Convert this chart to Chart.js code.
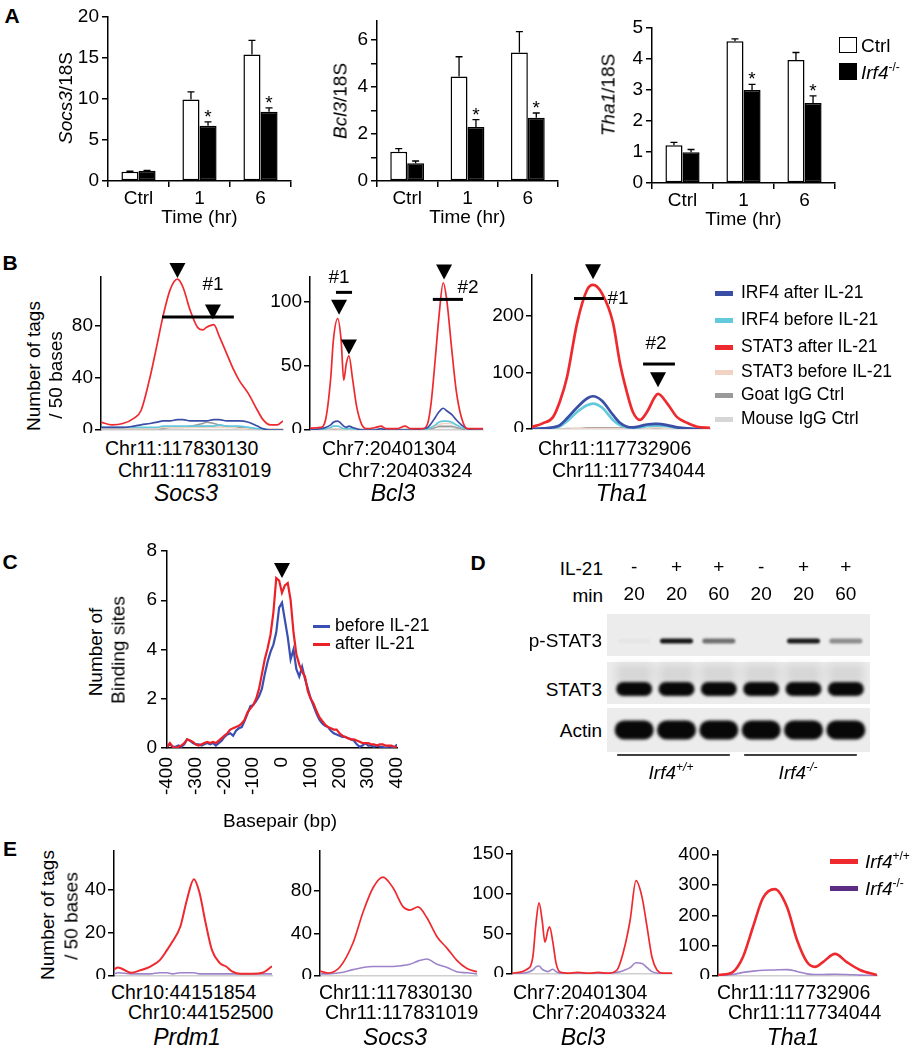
<!DOCTYPE html>
<html>
<head>
<meta charset="utf-8">
<title>IRF4 / STAT3 figure</title>
<script src="https://cdn.jsdelivr.net/npm/chart.js@4.4.1/dist/chart.umd.min.js"></script>
<style>
  html, body { margin: 0; padding: 0; background: #fff; }
  body { position: relative; width: 912px; height: 1050px; overflow: hidden;
         font-family: "Liberation Sans", Arial, Helvetica, sans-serif; color: #000; }
  canvas { position: absolute; }
  .t { position: absolute; white-space: nowrap; line-height: 1; font-size: 19px; z-index: 2; }
  .pl { font-weight: bold; font-size: 21px; }
  .t sup { font-size: 12px; vertical-align: baseline; position: relative; top: -8px; }
  .sw { position: absolute; z-index: 2; box-sizing: border-box; }
</style>
</head>
<body>
<script>
// ================= DATA =================
// ---- Panel A : qPCR (relative to 18S) ----
const timeCats = ['Ctrl', '1', '6'];
const aSeriesNames = ['Ctrl', 'Irf4-/-'];

const socs3Ctrl    = [1.14, 9.94, 15.42];
const socs3CtrlErr = [0.05, 0.93, 1.74];
const socs3Ko      = [1.26, 6.73, 8.44];
const socs3KoErr   = [0.04, 0.49, 0.48];
const socs3Sig     = [false, true, true];

const bcl3Ctrl    = [1.24, 4.44, 5.46];
const bcl3CtrlErr = [0.14, 0.84, 0.89];
const bcl3Ko      = [0.75, 2.30, 2.69];
const bcl3KoErr   = [0.10, 0.31, 0.20];
const bcl3Sig     = [false, true, true];

const tha1Ctrl    = [1.22, 4.57, 3.97];
const tha1CtrlErr = [0.09, 0.08, 0.24];
const tha1Ko      = [0.99, 3.00, 2.58];
const tha1KoErr   = [0.09, 0.18, 0.23];
const tha1Sig     = [false, true, true];

// ---- Panel B : ChIP-seq tag density (position = % of window) ----
const bSeriesNames = ['IRF4 after IL-21', 'IRF4 before IL-21', 'STAT3 after IL-21', 'STAT3 before IL-21', 'Goat IgG Ctrl', 'Mouse IgG Ctrl'];

const bSocs3Pos         = [0,6,12,18,22,27,31,34,38,42,45,49,53,56,58,62,65,69,73,76,81,86,89,93,97,100];
const bSocs3Stat3After  = [6,4,5,9,15,41,67,87,108,116,110,92,79,77,79,81,72,59,46,38,28,15,8,4,4,7];
const bSocs3Irf4After   = [2,2,2,3,4,5,6,7,7,8,8,7,7,7,7,8,8,7,7,7,6,3,1,0,0,0];
const bSocs3Irf4Before  = [2,2,2,2,2,2,2,3,3,3,3,3,3,3,3,3,4,3,3,3,2,1,1,0,0,0];
const bSocs3Stat3Before = [1,1,1,1,1,1,1,2,2,2,2,2,2,2,2,2,2,2,2,1,1,1,1,1,1,1];
const bSocs3Goat        = [1,1,1,1,1,1,1,1,2,2,2,3,4,5,6,5,4,3,2,2,1,1,1,1,1,1];
const bSocs3Mouse       = [1,1,1,1,1,1,2,2,2,2,2,2,3,3,3,3,3,2,2,2,2,1,1,1,1,1];

const bBcl3Pos         = [0,6,9,12,13.5,16,18,19.5,21,22.5,24.5,27,30,33,38,41,44,50,55,58,65,68,70,72.5,74.5,77,79,82,84.5,87.5,91,95,100];
const bBcl3Stat3After  = [1.5,2,8,41,70,87,70,39,52,58,41,18,4,1,2,3,1,1,3,1,1,5,21,57,88,115,102,62,31,10,1,1,1];
const bBcl3Irf4After   = [0,1,2,4,6,7,5,3,2,3,2,1,0,0,0,1,0,0,0,0,1,2,5,10,14,17,15,12,8,4,1,0,0];
const bBcl3Irf4Before  = [0,0,1,2,3,3,2,1,1,1,1,0,0,0,0,0,0,0,0,0,0,1,2,4,6,7,7,6,4,2,1,0,0];
const bBcl3Stat3Before = [0,0,0,1,1,1,1,0,0,0,0,0,0,0,0,0,0,0,0,0,0,1,2,3,4,5,5,5,4,2,1,0,0];
const bBcl3Goat        = [0,0,0,0,0,1,1,0,0,0,0,0,0,0,0,0,0,0,0,0,0,1,1,2,3,3,3,3,2,1,0,0,0];
const bBcl3Mouse       = [1,1,1,1,1,1,1,1,1,1,1,1,1,1,1,1,1,1,1,1,1,1,1,2,2,2,2,2,1,1,1,1,1];

const bTha1Pos         = [0,6,11.8,15.7,19.7,25.3,30.9,34.3,39.3,45.5,49.4,53.4,56.7,60.7,64.6,69.1,70.8,75.8,81.5,87.1,92.7,100];
const bTha1Stat3After  = [3.5,10,21,49,92,187,246,255,240,188,117,64,30,16,30,57,62,46,21,11,4,2];
const bTha1Irf4After   = [0,1,3,7,19,38,54,58,50,25,11,4,3,5,8,9,9,7,3,1,0,0];
const bTha1Irf4Before  = [0,1,2,5,14,30,42,45,38,16,7,3,2,3,5,6,6,5,2,1,0,0];
const bTha1Stat3Before = [0,0,0,0,0,1,1,1,1,1,1,0,0,0,1,2,2,1,0,0,0,0];
const bTha1Goat        = [0,0,0,0,1,1,2,2,2,2,2,2,1,1,0,0,0,0,0,0,0,0];
const bTha1Mouse       = [0,0,0,0,0,0,1,1,1,1,1,1,1,0,0,0,0,0,0,0,0,0];

// peak markers [position, value] and binding-site bars [from, to, value]
const bSocs3Peaks = [[42, 117], [61.5, 85]];
const bSocs3Sites = [[33.5, 73, 87]];
const bBcl3Peaks  = [[16.8, 90], [22.5, 59], [77.5, 117.5]];
const bBcl3Sites  = [[15, 24.3, 107.5], [71, 88.4, 102]];
const bTha1Peaks  = [[34.3, 265], [70.8, 74]];
const bTha1Sites  = [[23.6, 40.4, 231], [62.4, 80.3, 115]];

// ---- Panel C : binding-site distribution ----
const cBp = [-400,-390,-380,-370,-360,-350,-340,-330,-320,-310,-300,-290,-280,-270,-260,-250,-240,-230,-220,-210,-200,-190,-180,-170,-160,-150,-140,-130,-120,-110,-100,-90,-80,-70,-60,-50,-40,-30,-20,-10,0,10,20,30,40,50,60,70,80,90,100,110,120,130,140,150,160,170,180,190,200,210,220,230,240,250,260,270,280,290,300,310,320,330,340,350,360,370,380,390,400];
const cBeforeIL21 = [0.05,0.15,0.05,0.05,0.1,0.05,0.15,0.35,0.3,0.2, 0.15,0.15,0.1,0.15,0.2,0.15,0.2,0.1,0.2,0.3, 0.45,0.55,0.6,0.5,0.7,0.8,0.85,1.1,1.4,1.7, 1.75,1.9,2.1,2.4,3.0,3.5,3.9,4.2,4.7,5.7, 5.9,5.2,4.5,3.6,4.0,3.2,2.9,3.3,2.8,2.4, 2.0,1.7,1.4,1.15,1.0,0.9,0.85,0.7,0.6,0.55, 0.5,0.45,0.45,0.4,0.35,0.3,0.15,0.05,0.1,0.2, 0.1,0.1,0.05,0.1,0.05,0.05,0.0,0.05,0.05,0.0, 0.15];
const cAfterIL21  = [0.05,0.2,0.05,0.0,0.05,0.1,0.2,0.35,0.3,0.25, 0.15,0.1,0.15,0.2,0.25,0.2,0.25,0.2,0.3,0.4, 0.5,0.6,0.75,0.8,0.85,0.9,1.0,1.15,1.45,1.6, 1.75,2.0,2.4,3.0,3.6,4.05,4.6,5.5,6.9,6.8, 6.3,6.6,6.7,6.0,4.7,3.8,3.4,3.1,2.9,2.3, 2.0,1.8,1.5,1.25,1.1,0.95,0.85,0.8,0.75,0.75, 0.6,0.5,0.45,0.4,0.35,0.35,0.3,0.25,0.2,0.2, 0.2,0.15,0.15,0.1,0.15,0.15,0.1,0.1,0.1,0.05, 0.05];
const cPeaks = [[0, 6.9]];

// ---- Panel D : western blot (band intensity 0..1) ----
const blotIL21  = ['-', '+', '+', '-', '+', '+'];
const blotMin   = ['20', '20', '60', '20', '20', '60'];
const blotRows  = ['p-STAT3', 'STAT3', 'Actin'];
const pStat3Band = [0.025, 0.95, 0.55, 0.0, 0.92, 0.42];
const stat3Band  = [1, 1, 1, 1, 1, 1];
const actinBand  = [1, 1, 1, 1, 1, 1];
const blotGroups = [[0, 2], [3, 5]];

// ---- Panel E : STAT3 ChIP-seq in Irf4+/+ vs Irf4-/- ----
const ePrdm1Pos = [0,2.5,11,16,23,29,33.5,37,42,46,50.6,54,58,62,67,71,75,80,88,94,100];
const ePrdm1Wt  = [3,4,1.5,2.5,4.4,7.4,12,16,23,35,45,39,24.6,12,6,4.4,2,1,1,1.5,4.5];
const ePrdm1Ko  = [1,1.5,1,1,1,1.5,1.5,1,1.5,1.5,1.5,1,1,1,1,1,1,1,1,1,1];

const eSocs3Pos = [0,5,12.7,21,27.4,33.8,40,46.5,53,57.3,62.4,68,74.5,81,87,93.6,100];
const eSocs3Wt  = [4.7,2.8,8.5,31,60,83,93,83,65,62,65,55,37,26,15,7,4];
const eSocs3Ko  = [2,2,3,6,8,9,9,9,10,11,14,16,11,8,4,3,2];

const eBcl3Pos = [0,9.4,13,15,16.9,18.8,20.6,22.5,23.5,25.6,27.5,30,35,41,48,54,60,65.6,69.4,73.8,77.5,81.3,84.4,87.5,90.6,94.4,100];
const eBcl3Wt  = [1,6,21,64,89,68,40,55,59,39,14,2.5,1,2,1,2,1,5,26,67,117,96,59,21,5,1,1];
const eBcl3Ko  = [0,2,5,9,10,6,4,3,4,6,3,1,0,0,0,0,1,2,4,8,14,13,8,3,1,0,0];

const eTha1Pos = [0,4.7,9.4,15.7,22,28.3,35.8,43.4,49.7,56,61,66,73.6,81,89.3,100];
const eTha1Wt  = [3,6,13,63,162,258,287,228,119,46,30,46,73,46,20,3];
const eTha1Ko  = [1,3,5,12,16,19,20,21,15,7,5,5,6,5,3,1];

// ================= STYLE =================
const COL = {
  stat3After: '#ee2a2f', irf4After: '#3b4ea6', irf4Before: '#63c9dd',
  stat3Before: '#f1d3c3', goat: '#9a9a9a', mouse: '#d6d6d6',
  ko: '#9d84c9', koLegend: '#5d2c84', cBlue: '#3a4fb2', cRed: '#ec2128'
};
Chart.defaults.font.family = '"Liberation Sans", Arial, Helvetica, sans-serif';
Chart.defaults.font.size = 19;
Chart.defaults.color = '#000';
Chart.defaults.animation = false;

// ================= HELPERS =================
function mk(area, o, config) {
  const padT = o.padT ?? 12, padR = o.padR ?? 8, padB = o.padB ?? 0, padL = o.padL ?? 0;
  const yW = o.yW ?? 0, xH = o.xH ?? 0, xTop = !!o.xTop;
  const W = padL + yW + (area.r - area.l) + padR;
  const H = padT + (area.b - area.t) + xH + padB;
  const c = document.createElement('canvas');
  c.width = W; c.height = H;
  Object.assign(c.style, {left: (area.l - yW - padL) + 'px', top: (area.t - padT - (xTop ? xH : 0)) + 'px', width: W + 'px', height: H + 'px'});
  document.body.appendChild(c);
  const opt = config.options = config.options || {};
  opt.responsive = false; opt.maintainAspectRatio = false; opt.animation = false; opt.events = [];
  opt.layout = {padding: {top: padT, right: padR, bottom: padB, left: padL}};
  opt.plugins = Object.assign({legend: {display: false}, tooltip: {enabled: false}}, opt.plugins || {});
  for (const k of Object.keys(opt.scales)) {
    const isX = k.startsWith('x');
    opt.scales[k].afterFit = s => {
      if (isX) s.height = xH; else s.width = yW;
      s.paddingTop = s.paddingBottom = s.paddingLeft = s.paddingRight = 0;
    };
  }
  return new Chart(c, config);
}

function T(html, x, y, o = {}) {
  const d = document.createElement('div');
  d.className = 't' + (o.cls ? ' ' + o.cls : '');
  d.innerHTML = html;
  if (o.size) d.style.fontSize = o.size + 'px';
  d.style.left = x + 'px'; d.style.top = y + 'px';
  const tx = o.align === 'left' ? '0' : o.align === 'right' ? '-100%' : '-50%';
  d.style.transform = `translate(${tx},-50%)` + (o.rot ? ` rotate(${o.rot}deg)` : '');
  document.body.appendChild(d);
}
function SW(x, y, w, h, css) {
  const d = document.createElement('div');
  d.className = 'sw';
  Object.assign(d.style, {left: x + 'px', top: (y - h / 2) + 'px', width: w + 'px', height: h + 'px'}, css);
  document.body.appendChild(d);
}

function errPlugin(errs, sigs) {
  return {
    id: 'errbars',
    afterDatasetsDraw(chart) {
      const {ctx, scales: {y}} = chart;
      ctx.save();
      ctx.strokeStyle = '#000'; ctx.fillStyle = '#000'; ctx.lineWidth = 1.3;
      ctx.font = '19px "Liberation Sans", Arial, sans-serif';
      ctx.textAlign = 'center'; ctx.textBaseline = 'alphabetic';
      chart.data.datasets.forEach((ds, di) => {
        chart.getDatasetMeta(di).data.forEach((bar, j) => {
          const v = ds.data[j], e = errs[di][j];
          const y0 = y.getPixelForValue(v), y1 = y.getPixelForValue(v + e);
          ctx.beginPath();
          ctx.moveTo(bar.x, y0); ctx.lineTo(bar.x, y1);
          ctx.moveTo(bar.x - 3.5, y1); ctx.lineTo(bar.x + 3.5, y1);
          ctx.stroke();
          if (sigs[di] && sigs[di][j]) ctx.fillText('*', bar.x, y1 + 1);
        });
      });
      ctx.restore();
    }
  };
}

function annotPlugin(peaks, sites) {
  return {
    id: 'annot',
    afterDatasetsDraw(chart) {
      const {ctx, scales: {x, y}} = chart;
      ctx.save();
      ctx.fillStyle = '#000'; ctx.strokeStyle = '#000';
      (peaks || []).forEach(([p, v]) => {
        const X = x.getPixelForValue(p), Y = y.getPixelForValue(v);
        ctx.beginPath(); ctx.moveTo(X - 8, Y - 15); ctx.lineTo(X + 8, Y - 15); ctx.lineTo(X, Y); ctx.closePath(); ctx.fill();
      });
      ctx.lineWidth = 3;
      (sites || []).forEach(([p1, p2, v]) => {
        const Y = y.getPixelForValue(v);
        ctx.beginPath(); ctx.moveTo(x.getPixelForValue(p1), Y); ctx.lineTo(x.getPixelForValue(p2), Y); ctx.stroke();
      });
      ctx.restore();
    }
  };
}

function barChart(area, ctrl, ctrlErr, ko, koErr, sig, yOpts) {
  const y = Object.assign({min: 0,
    grid: {drawOnChartArea: false, tickLength: 6, color: '#000', lineWidth: 1.5},
    border: {color: '#000', width: 1.5}}, yOpts);
  return mk(area, {yW: 46, xH: 48, padT: 12, padR: 10}, {
    type: 'bar',
    data: {labels: timeCats, datasets: [
      {label: aSeriesNames[0], data: ctrl, backgroundColor: '#fff', borderColor: '#000', borderWidth: 1.5, borderSkipped: false, categoryPercentage: 0.56, barPercentage: 1},
      {label: aSeriesNames[1], data: ko, backgroundColor: '#000', borderColor: '#000', borderWidth: 1.5, borderSkipped: false, categoryPercentage: 0.56, barPercentage: 1}
    ]},
    options: {scales: {
      x: {grid: {display: true, drawOnChartArea: false, tickLength: 6, color: '#000', lineWidth: 1.5, offset: true},
          border: {color: '#000', width: 1.5}, ticks: {padding: 0},
          title: {display: true, text: 'Time (hr)', padding: 0}},
      y: y
    }},
    plugins: [errPlugin([ctrlErr, koErr], [null, sig])]
  });
}

function peakChart(area, yMax, yStep, pos, series, peaks, sites) {
  return mk(area, {yW: 46, xH: 3, padT: 22, padR: 6}, {
    type: 'line',
    data: {datasets: series.map(s => ({
      label: s.name,
      data: pos.map((p, i) => ({x: p, y: s.values[i]})),
      borderColor: s.color, borderWidth: s.width, pointRadius: 0, fill: false,
      cubicInterpolationMode: 'monotone'}))},
    options: {scales: {
      x: {type: 'linear', min: 0, max: 100, ticks: {display: false}, grid: {display: false, drawTicks: false},
          border: {display: true, color: '#cfcfcf', width: 1.5}},
      y: {min: 0, max: yMax, ticks: {stepSize: yStep, includeBounds: false, padding: 2},
          grid: {drawOnChartArea: false, tickLength: 6, color: '#000', lineWidth: 1.5},
          border: {color: '#000', width: 1.5}}
    }},
    plugins: [annotPlugin(peaks, sites)]
  });
}

// ================= PANEL A =================
barChart({l: 108, t: 17, r: 291, b: 181}, socs3Ctrl, socs3CtrlErr, socs3Ko, socs3KoErr, socs3Sig,
  {max: 20, ticks: {stepSize: 5, padding: 3}});
barChart({l: 377, t: 21, r: 558, b: 181}, bcl3Ctrl, bcl3CtrlErr, bcl3Ko, bcl3KoErr, bcl3Sig,
  {max: 6.8, ticks: {stepSize: 1, includeBounds: false, padding: 3, callback: v => (v % 2 === 0 ? v : '')}});
barChart({l: 652, t: 28, r: 835, b: 183}, tha1Ctrl, tha1CtrlErr, tha1Ko, tha1KoErr, tha1Sig,
  {max: 5, ticks: {stepSize: 1, padding: 3}});

// ================= PANEL B =================
function bSeries(a, w1, w2) {
  return [
    {name: bSeriesNames[2], values: a.stat3After, color: COL.stat3After, width: w1},
    {name: bSeriesNames[0], values: a.irf4After, color: COL.irf4After, width: w2},
    {name: bSeriesNames[1], values: a.irf4Before, color: COL.irf4Before, width: w2},
    {name: bSeriesNames[3], values: a.stat3Before, color: COL.stat3Before, width: 1.5},
    {name: bSeriesNames[4], values: a.goat, color: COL.goat, width: 1.5},
    {name: bSeriesNames[5], values: a.mouse, color: COL.mouse, width: 1.5}
  ];
}
peakChart({l: 101, t: 277, r: 283, b: 430}, 117.7, 40, bSocs3Pos,
  bSeries({stat3After: bSocs3Stat3After, irf4After: bSocs3Irf4After, irf4Before: bSocs3Irf4Before, stat3Before: bSocs3Stat3Before, goat: bSocs3Goat, mouse: bSocs3Mouse}, 1.7, 1.7),
  bSocs3Peaks, bSocs3Sites);
peakChart({l: 310, t: 277, r: 483, b: 430}, 119.5, 50, bBcl3Pos,
  bSeries({stat3After: bBcl3Stat3After, irf4After: bBcl3Irf4After, irf4Before: bBcl3Irf4Before, stat3Before: bBcl3Stat3Before, goat: bBcl3Goat, mouse: bBcl3Mouse}, 1.7, 1.7),
  bBcl3Peaks, bBcl3Sites);
peakChart({l: 532, t: 275, r: 710, b: 429}, 272.6, 100, bTha1Pos,
  bSeries({stat3After: bTha1Stat3After, irf4After: bTha1Irf4After, irf4Before: bTha1Irf4Before, stat3Before: bTha1Stat3Before, goat: bTha1Goat, mouse: bTha1Mouse}, 2.7, 2.7),
  bTha1Peaks, bTha1Sites);

// ================= PANEL C =================
mk({l: 167, t: 551, r: 397, b: 748}, {yW: 40, xH: 60, padT: 22, padR: 10}, {
  type: 'line',
  data: {datasets: [
    {label: 'after IL-21', data: cBp.map((p, i) => ({x: p, y: cAfterIL21[i]})), borderColor: COL.cRed, borderWidth: 2.2, pointRadius: 0, tension: 0},
    {label: 'before IL-21', data: cBp.map((p, i) => ({x: p, y: cBeforeIL21[i]})), borderColor: COL.cBlue, borderWidth: 2.2, pointRadius: 0, tension: 0}
  ]},
  options: {scales: {
    x: {type: 'linear', min: -400, max: 400,
        ticks: {stepSize: 100, minRotation: 90, maxRotation: 90, autoSkip: false, padding: 9, includeBounds: false},
        grid: {display: false, drawTicks: false}, border: {color: '#000', width: 1.5}},
    y: {min: 0, max: 8, ticks: {stepSize: 1, padding: 4, callback: v => (v % 2 === 0 ? v : '')},
        grid: {drawOnChartArea: false, tickLength: 6, color: '#000', lineWidth: 1.5},
        border: {color: '#000', width: 1.5}}
  }},
  plugins: [annotPlugin(cPeaks, [])]
});

// ================= PANEL D =================
const blotBands = [pStat3Band, stat3Band, actinBand];
const BLOT_STYLE = [
  {boxTop: -23, boxBot: 19, w: 33, h: 5, dy: 4, blur: 1, smear: false},
  {boxTop: -21, boxBot: 21, w: 36, h: 14, dy: 6, blur: 1.4, smear: true},
  {boxTop: -21, boxBot: 23, w: 39, h: 19, dy: 1, blur: 1.4, smear: false}
];
const blotPlugin = {
  id: 'blot',
  afterDraw(chart) {
    const {ctx, chartArea: a, scales: {x, y}} = chart;
    ctx.save();
    blotRows.forEach((name, r) => {
      const cy = y.getPixelForValue(r);
      const st = BLOT_STYLE[r];
      ctx.filter = 'blur(0.6px)';
      ctx.fillStyle = '#ececec';
      ctx.fillRect(a.left - 6, cy + st.boxTop, a.right - a.left + 9, st.boxBot - st.boxTop);
      blotBands[r].forEach((v, i) => {
        const cx = x.getPixelForValue(i);
        if (st.smear) {
          ctx.filter = 'blur(4px)';
          ctx.fillStyle = 'rgba(0,0,0,0.09)';
          ctx.fillRect(cx - st.w / 2, cy + st.dy - st.h / 2 - 18, st.w, 20);
        }
        if (v <= 0) return;
        ctx.filter = `blur(${st.blur}px)`;
        ctx.fillStyle = `rgba(8,8,8,${v})`;
        ctx.beginPath();
        ctx.roundRect(cx - st.w / 2, cy + st.dy - st.h / 2, st.w, st.h, st.h / 2);
        ctx.fill();
      });
    });
    ctx.filter = 'none';
    ctx.strokeStyle = '#000'; ctx.lineWidth = 1.5;
    blotGroups.forEach(([from, to]) => {
      ctx.beginPath();
      ctx.moveTo(x.getPixelForValue(from) - 17, a.bottom + 3);
      ctx.lineTo(x.getPixelForValue(to) + 11, a.bottom + 3);
      ctx.stroke();
    });
    ctx.restore();
  }
};
mk({l: 613, t: 614, r: 867, b: 752}, {yW: 0, xH: 60, xTop: true, padT: 4, padR: 6, padB: 8, padL: 8}, {
  type: 'bar',
  data: {labels: blotIL21.map((s, i) => [s, blotMin[i]]), datasets: []},
  options: {scales: {
    x: {position: 'top', offset: true, grid: {display: false, drawTicks: false}, border: {display: false},
        ticks: {padding: 6, maxRotation: 0, autoSkip: false, font: {size: 19, lineHeight: 27 / 19}}},
    y: {type: 'category', labels: blotRows, offset: true, grid: {display: false, drawTicks: false},
        border: {display: false}, ticks: {display: false}}
  }},
  plugins: [blotPlugin]
});

// ================= PANEL E =================
function eSeries(wt, ko, w) {
  return [
    {name: 'Irf4+/+', values: wt, color: COL.stat3After, width: w},
    {name: 'Irf4-/-', values: ko, color: COL.ko, width: 1.6}
  ];
}
peakChart({l: 114, t: 851, r: 272, b: 976}, 58.1, 20, ePrdm1Pos, eSeries(ePrdm1Wt, ePrdm1Ko, 2));
peakChart({l: 320, t: 851, r: 477, b: 976}, 117.6, 40, eSocs3Pos, eSeries(eSocs3Wt, eSocs3Ko, 1.7));
peakChart({l: 512, t: 851, r: 672, b: 974}, 154, 50, eBcl3Pos, eSeries(eBcl3Wt, eBcl3Ko, 1.7));
peakChart({l: 718, t: 851, r: 877, b: 976}, 413, 100, eTha1Pos, eSeries(eTha1Wt, eTha1Ko, 2.6));

// ================= TEXT & LEGENDS =================
// panel letters
T('A', 12, 15, {cls: 'pl'});
T('B', 10, 262, {cls: 'pl'});
T('C', 10, 561, {cls: 'pl'});
T('D', 478, 562, {cls: 'pl'});
T('E', 10, 848, {cls: 'pl'});

// Panel A
T('<i>Socs3</i>/18S', 65, 98, {rot: -90});
T('<i>Bcl3</i>/18S', 340, 101, {rot: -90});
T('<i>Tha1</i>/18S', 608, 95, {rot: -90});
SW(839, 45, 18, 16, {background: '#fff', border: '1.5px solid #000'});
T('Ctrl', 861, 45, {align: 'left'});
SW(839, 71, 18, 17, {background: '#000'});
T('<i>Irf4</i><sup>-/-</sup>', 861, 72, {align: 'left'});

// Panel B
T('Number of tags', 33, 366, {rot: -90});
T('/ 50 bases', 55, 375, {rot: -90});
T('#1', 213, 283); T('#1', 339, 276); T('#2', 468, 286); T('#1', 618, 297); T('#2', 656, 342);
T('Chr11:117830130', 105, 449, {align: 'left', size: 19.5});
T('Chr11:117831019', 118, 471, {align: 'left', size: 19.5});
T('<i>Socs3</i>', 186, 493, {size: 23});
T('Chr7:20401304', 322, 449, {align: 'left', size: 19.5});
T('Chr7:20403324', 338, 471, {align: 'left', size: 19.5});
T('<i>Bcl3</i>', 393, 493, {size: 23});
T('Chr11:117732906', 538, 449, {align: 'left', size: 19.5});
T('Chr11:117734044', 552, 471, {align: 'left', size: 19.5});
T('<i>Tha1</i>', 622, 493, {size: 23});
const bLegendColors = [COL.irf4After, COL.irf4Before, COL.stat3After, COL.stat3Before, COL.goat, COL.mouse];
const bLegendY = [293, 320, 347, 372, 395, 419];
bSeriesNames.forEach((n, i) => {
  SW(715, bLegendY[i], 18, 5, {background: bLegendColors[i]});
  T(n, 741, bLegendY[i], {align: 'left', size: 17.5});
});

// Panel C
T('Number of', 95, 652, {rot: -90});
T('Binding sites', 118, 650, {rot: -90});
T('Basepair (bp)', 280, 820);
SW(313, 626, 17, 3, {background: COL.cBlue});
T('before IL-21', 335, 626, {align: 'left', size: 17.5});
SW(313, 644, 17, 3, {background: COL.cRed});
T('after IL-21', 335, 644, {align: 'left', size: 17.5});

// Panel D
T('IL-21', 603, 568, {align: 'right'});
T('min', 603, 595, {align: 'right'});
T('p-STAT3', 602, 640, {align: 'right'});
T('STAT3', 602, 689, {align: 'right'});
T('Actin', 602, 730, {align: 'right'});
T('<i>Irf4<sup>+/+</sup></i>', 671, 772);
T('<i>Irf4<sup>-/-</sup></i>', 798, 772);

// Panel E
T('Number of tags', 47, 915, {rot: -90});
T('/ 50 bases', 71, 916, {rot: -90});
T('Chr10:44151854', 111, 993, {align: 'left', size: 19.5});
T('Chr10:44152500', 128, 1013, {align: 'left', size: 19.5});
T('<i>Prdm1</i>', 187, 1037, {size: 23});
T('Chr11:117830130', 319, 993, {align: 'left', size: 19.5});
T('Chr11:117831019', 325, 1013, {align: 'left', size: 19.5});
T('<i>Socs3</i>', 395, 1037, {size: 23});
T('Chr7:20401304', 513, 993, {align: 'left', size: 19.5});
T('Chr7:20403324', 532, 1013, {align: 'left', size: 19.5});
T('<i>Bcl3</i>', 583, 1037, {size: 23});
T('Chr11:117732906', 717, 993, {align: 'left', size: 19.5});
T('Chr11:117734044', 728, 1013, {align: 'left', size: 19.5});
T('<i>Tha1</i>', 793, 1037, {size: 23});
SW(830, 861, 28, 5, {background: COL.stat3After});
T('<i>Irf4</i><sup>+/+</sup>', 865, 861, {align: 'left'});
SW(830, 888, 28, 5, {background: COL.koLegend});
T('<i>Irf4</i><sup>-/-</sup>', 865, 888, {align: 'left'});
</script>
</body>
</html>
